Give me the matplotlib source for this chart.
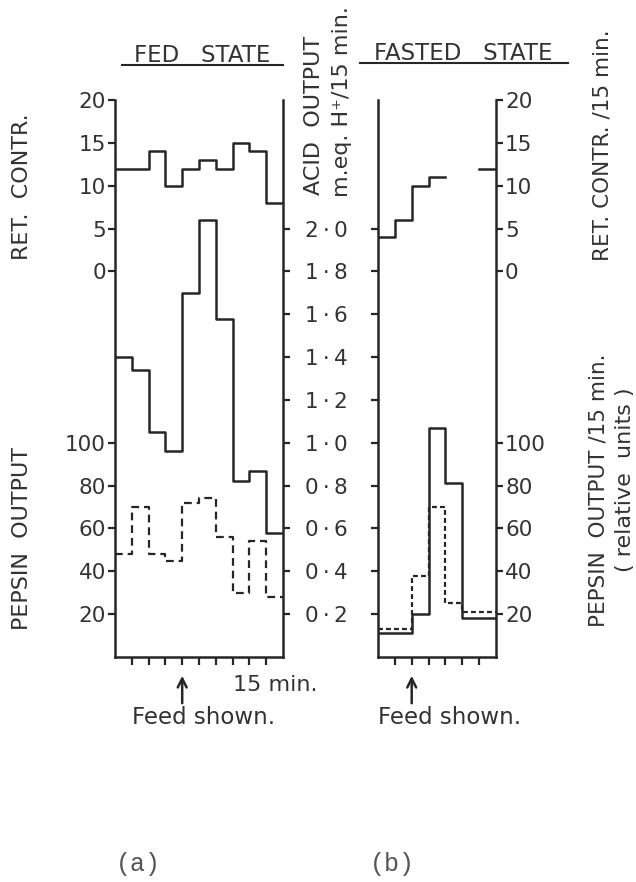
import matplotlib
matplotlib.use("Agg")
import matplotlib.pyplot as plt
from matplotlib.lines import Line2D
import numpy as np

# ---------------------------------------------------------------- data
# 15-minute collection periods; fed state (a) has 10, fasted state (b) has 7
fed_ret = [12, 12, 14, 10, 12, 13, 12, 15, 14, 8]
fed_acid = [1.40, 1.34, 1.05, 0.96, 1.70, 2.04, 1.58, 0.82, 0.87, 0.58]
fed_pepsin = [48, 70, 48, 45, 72, 74, 56, 30, 54, 28]

fast_ret = [4, 6, 10, 11, np.nan, np.nan, 12]
fast_acid = [0.11, 0.11, 0.20, 1.07, 0.81, 0.18, 0.18]
fast_pepsin = [13, 13, 38, 70, 25, 21, 21]

ret_ticks = [0, 5, 10, 15, 20]
pepsin_ticks = [20, 40, 60, 80, 100]
acid_ticks = [0.2, 0.4, 0.6, 0.8, 1.0, 1.2, 1.4, 1.6, 1.8, 2.0]
acid_labels = [f"{v:.1f}".replace(".", "\u2009·\u2009") for v in acid_ticks]

fed_feed_period = 4
fast_feed_period = 2

# ---------------------------------------------------------------- style
W, H, DPI = 636, 882, 100
INK = "#262626"
TXT = "#333333"
plt.rcParams["font.family"] = ["DejaVu Sans"]
TICK_FS = 15.5
LABEL_FS = 16

fig = plt.figure(figsize=(W / DPI, H / DPI), dpi=DPI)
fig.patch.set_facecolor("white")


def fx(x):
    return x / W


def fy(y):
    return 1 - y / H


# acid scale 0..2.6 ; ret. contr. = (acid - 1.8) * 25 ; pepsin = acid * 100
ACID_LIM = (0, 2.6)
RET_LIM = ((ACID_LIM[0] - 1.8) * 25, (ACID_LIM[1] - 1.8) * 25)
PEP_LIM = (ACID_LIM[0] * 100, ACID_LIM[1] * 100)


def make_panel(rect, n):
    ax = fig.add_axes(rect)
    ax.set_xlim(0, n)
    ax.set_ylim(*ACID_LIM)
    ax_ret = ax.twinx()
    ax_pep = ax.twinx()
    ax_ret.set_ylim(*RET_LIM)
    ax_pep.set_ylim(*PEP_LIM)
    for a in (ax, ax_ret, ax_pep):
        a.patch.set_visible(False)
        for s in a.spines.values():
            s.set_visible(False)
    for side in ("left", "right", "bottom"):
        ax.spines[side].set_visible(True)
        ax.spines[side].set_linewidth(1.8)
        ax.spines[side].set_color(INK)
    ax.set_xticks(range(1, n))
    ax.tick_params(axis="x", direction="out", length=6, width=1.6,
                   color=INK, labelbottom=False)
    return ax, ax_ret, ax_pep


def style_y(a, side, labels, pad):
    a.yaxis.set_ticks_position(side)
    a.tick_params(axis="y", direction="out", length=5, width=1.6, color=INK,
                  labelsize=TICK_FS, labelcolor=TXT, pad=pad,
                  left=(side == "left"), right=(side == "right"),
                  labelleft=(side == "left" and labels),
                  labelright=(side == "right" and labels))


def draw(ax, ax_ret, ax_pep, ret, acid, pep, dash):
    n = len(acid)
    edges = np.arange(n + 1)
    ax_ret.step(edges, list(ret) + [ret[-1]], where="post", color=INK, lw=1.8)
    ax.step(edges, list(acid) + [acid[-1]], where="post", color=INK, lw=1.8)
    ax_pep.step(edges, list(pep) + [pep[-1]], where="post", color=INK, lw=1.6,
                linestyle=dash)


# ---------------------------------------------------------------- panel (a)
rectA = [fx(115), fy(657), fx(283) - fx(115), fy(100) - fy(657)]
axA, axA_ret, axA_pep = make_panel(rectA, len(fed_acid))
axA.set_yticks(acid_ticks, acid_labels)
style_y(axA, "right", True, 11)
for lbl in axA.get_yticklabels():
    lbl.set_horizontalalignment("left")
axA_ret.set_yticks(ret_ticks)
style_y(axA_ret, "left", True, 1.5)
axA_pep.set_yticks(pepsin_ticks)
style_y(axA_pep, "left", True, 1.5)
draw(axA, axA_ret, axA_pep, fed_ret, fed_acid, fed_pepsin, (0, (3.5, 2.2)))

# ---------------------------------------------------------------- panel (b)
rectB = [fx(378), fy(657), fx(496) - fx(378), fy(100) - fy(657)]
axB, axB_ret, axB_pep = make_panel(rectB, len(fast_acid))
axB.set_yticks(acid_ticks)
style_y(axB, "left", False, 2)
axB_ret.set_yticks(ret_ticks)
style_y(axB_ret, "right", True, 1.5)
axB_pep.set_yticks(pepsin_ticks)
style_y(axB_pep, "right", True, 1.5)
draw(axB, axB_ret, axB_pep, fast_ret, fast_acid, fast_pepsin, (0, (2.2, 1.4)))

# ---------------------------------------------------------------- titles
fig.text(fx(202), fy(55), "FED   STATE", ha="center", va="center",
         fontsize=16.5, color=TXT)
fig.add_artist(Line2D([fx(122), fx(283)], [fy(65), fy(65)],
                      transform=fig.transFigure, color=INK, lw=1.5))
fig.text(fx(463), fy(53), "FASTED   STATE", ha="center", va="center",
         fontsize=16.5, color=TXT)
fig.add_artist(Line2D([fx(360), fx(568)], [fy(63), fy(63)],
                      transform=fig.transFigure, color=INK, lw=1.5))

# ---------------------------------------------------------------- axis labels
fig.text(fx(22), fy(187), "RET.  CONTR.", rotation=90, ha="center",
         va="center", fontsize=LABEL_FS, color=TXT)
fig.text(fx(22), fy(538), "PEPSIN  OUTPUT", rotation=90, ha="center",
         va="center", fontsize=LABEL_FS, color=TXT)
fig.text(fx(314), fy(115), "ACID  OUTPUT", rotation=90, ha="center",
         va="center", fontsize=LABEL_FS, color=TXT)
fig.text(fx(342), fy(102), "m.eq. H⁺/15 min.", rotation=90, ha="center",
         va="center", fontsize=LABEL_FS, color=TXT)
fig.text(fx(603), fy(145), "RET. CONTR. /15 min.", rotation=90, ha="center",
         va="center", fontsize=15.5, color=TXT)
fig.text(fx(599), fy(490), "PEPSIN  OUTPUT /15 min.", rotation=90,
         ha="center", va="center", fontsize=15.5, color=TXT)
fig.text(fx(625), fy(480), "( relative  units )", rotation=90, ha="center",
         va="center", fontsize=LABEL_FS, color=TXT)

# ---------------------------------------------------------------- time axis notes
fig.text(fx(275), fy(685), "15 min.", ha="center", va="center",
         fontsize=LABEL_FS, color=TXT)
for ax, period, cx in ((axA, fed_feed_period, 204), (axB, fast_feed_period, 450)):
    ax.annotate("", xy=(period, H - 673), xytext=(period, H - 706),
                xycoords=("data", "figure pixels"),
                textcoords=("data", "figure pixels"),
                arrowprops=dict(arrowstyle="->", color=INK, lw=1.8,
                                mutation_scale=16),
                annotation_clip=False)
    fig.text(fx(cx), fy(718), "Feed shown.", ha="center", va="center",
             fontsize=16.5, color=TXT)

# ---------------------------------------------------------------- panel letters
for cx, letter in ((138, "(a)"), (392, "(b)")):
    fig.text(fx(cx), fy(864), letter, ha="center", va="center", fontsize=18,
             color="#555555", family=["Liberation Mono", "DejaVu Sans Mono"])

fig.savefig("out.png", dpi=DPI, facecolor="white")
